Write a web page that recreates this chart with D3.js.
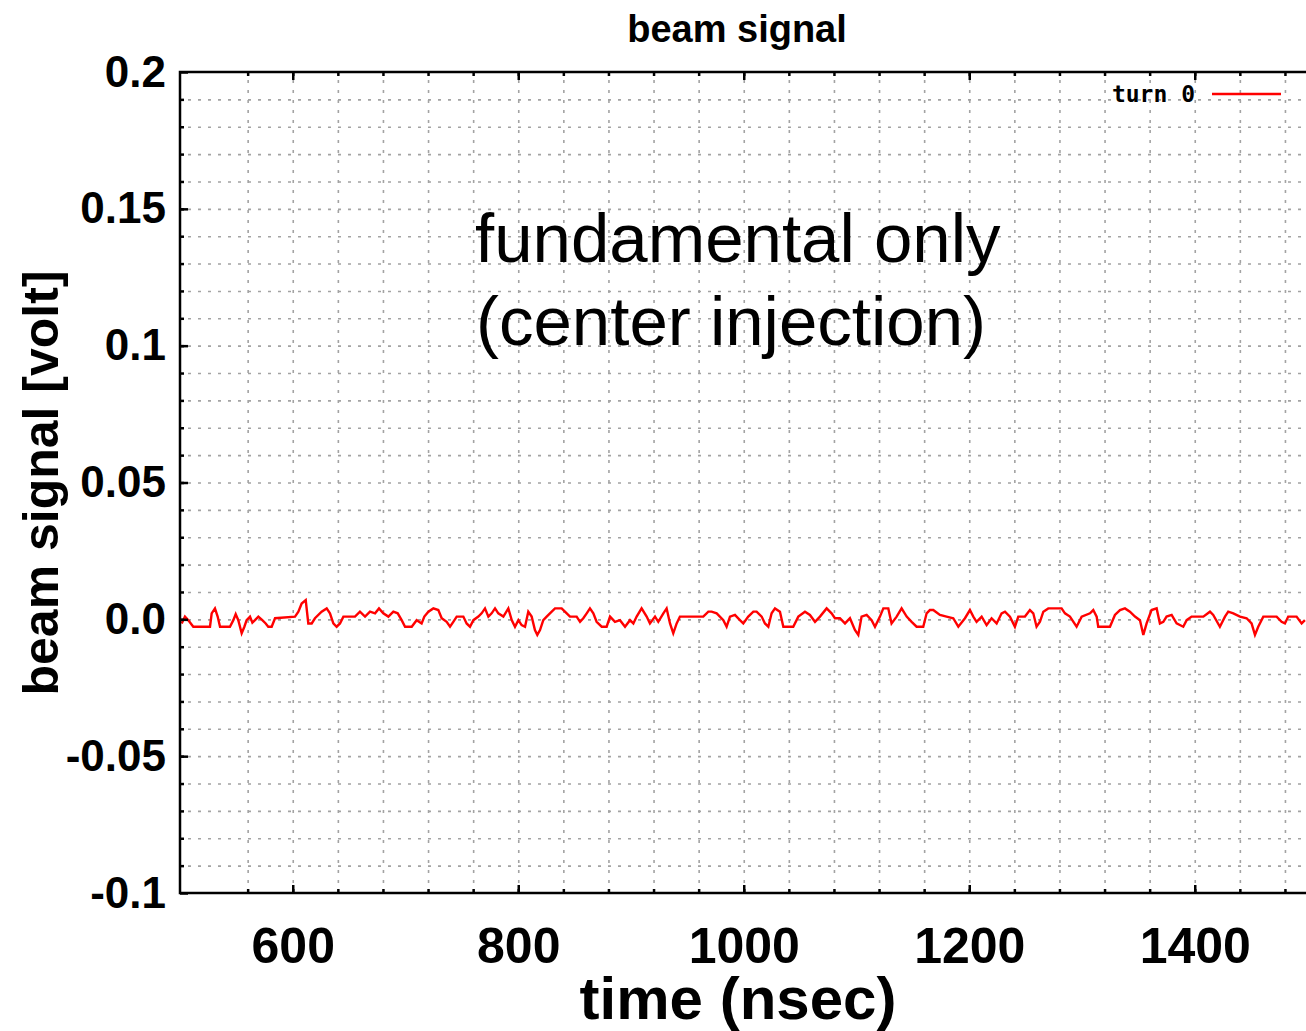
<!DOCTYPE html>
<html>
<head>
<meta charset="utf-8">
<script src="https://cdn.jsdelivr.net/npm/d3@7"></script>
<style>
  body { margin: 0; background: #fff; }
  svg { display: block; }
  .grid line { stroke: #a3a3a3; stroke-width: 1.6; stroke-dasharray: 3,7; }
  .grid .domain { display: none; }
  .axis .domain { display: none; }
  .axis line { stroke: #000; stroke-width: 2.5; }
  .axis text { font-family: "Liberation Sans", Arial, Helvetica, sans-serif; font-weight: bold; fill: #000; }
</style>
</head>
<body>
<div id="chart"></div>
<script>
// data
var timeNs = [
  501.5, 504.4, 507.4, 511.8, 526.6, 528.1, 531.0, 533.4, 535.5, 544.3, 547.3, 549.4, 551.7, 554.7, 557.1, 559.1,
  562.1, 564.2, 566.5, 569.5, 573.0, 576.0, 578.3, 581.3, 584.3, 602.0, 605.0, 607.9, 611.5, 613.8, 616.8, 619.7,
  625.6, 630.1, 633.0, 636.0, 638.9, 641.9, 644.9, 655.2, 659.6, 664.1, 668.5, 673.0, 676.5, 680.3, 684.8, 689.2,
  693.1, 696.6, 699.6, 705.5, 709.9, 714.3, 716.7, 720.3, 724.7, 729.1, 732.1, 736.5,
  739.5, 742.4, 745.4, 751.3, 754.2, 757.2, 760.2, 764.6, 767.5, 770.5, 773.5, 776.4, 779.4, 782.3, 786.8, 791.2,
  794.2, 797.1, 800.1, 803.0, 806.0, 808.9, 811.9, 814.8, 816.9, 819.3, 822.2, 825.2, 828.1, 832.6, 838.5, 841.4,
  845.9, 851.8, 854.8, 857.7, 860.7, 863.6, 866.6, 869.5, 874.0, 878.4, 881.4, 885.8, 890.2, 894.7, 899.1, 902.1,
  905.0, 909.4, 913.9, 916.8, 921.3, 924.2, 928.7, 931.6, 934.6, 937.5, 940.5, 943.4, 964.1, 968.6, 971.5, 976.0,
  981.9, 984.8, 987.8, 992.2, 996.6, 999.6, 1004.0, 1008.5, 1011.4, 1015.9, 1018.8, 1021.8, 1024.7, 1027.7, 1032.1,
  1035.1, 1043.9, 1048.4, 1054.3, 1058.7, 1063.2, 1067.6, 1073.5, 1077.9, 1080.9, 1085.3, 1089.8, 1094.2, 1098.6,
  1101.6, 1104.5, 1109.0, 1113.4, 1116.4, 1120.8, 1123.8, 1128.2, 1131.1, 1135.6, 1140.0, 1144.5, 1148.9, 1153.3,
  1159.2, 1162.2, 1165.1, 1168.1, 1174.0, 1179.9, 1185.8, 1190.3, 1196.2, 1200.6, 1203.6, 1206.5, 1211.0, 1215.4,
  1219.8, 1224.3, 1228.7, 1231.7, 1236.1,
  1240.5, 1243.5, 1249.4, 1253.8, 1256.8, 1259.7, 1262.7, 1265.7, 1270.1, 1281.9, 1284.9, 1289.3, 1295.2, 1299.7,
  1307.1, 1310.0, 1313.0, 1314.4, 1324.8, 1329.2, 1333.7, 1338.1, 1342.5, 1347.0, 1351.4, 1354.4, 1357.3, 1361.7,
  1366.2, 1369.1, 1372.1, 1375.0, 1379.5, 1383.9, 1389.8, 1392.8, 1397.2, 1407.6, 1413.5, 1416.4, 1422.3, 1426.8,
  1429.7, 1434.2, 1440.1, 1446.0, 1450.4, 1453.4, 1456.3, 1460.8, 1472.6, 1477.0, 1480.0, 1482.9, 1490.3, 1494.8,
  1497.7
];
var signalV = [
  -0.0015, 0.0010, -0.0003, -0.0027, -0.0027, 0.0022, 0.0040, 0.0010, -0.0027, -0.0027, -0.0003, 0.0019, -0.0003, -0.0051, -0.0027, -0.0003,
  0.0010, -0.0012, -0.0003, 0.0010, -0.0003, -0.0015, -0.0027, -0.0027, 0.0004, 0.0010, 0.0028, 0.0058, 0.0070, -0.0015, -0.0015, 0.0004,
  0.0028, 0.0040, 0.0022, -0.0015, -0.0027, -0.0015, 0.0010, 0.0010, 0.0028, 0.0010, 0.0028, 0.0022, 0.0040, 0.0022, 0.0010, 0.0028,
  0.0022, -0.0003, -0.0027, -0.0027, -0.0003, -0.0015, 0.0010, 0.0028, 0.0040, 0.0034, 0.0004, -0.0009,
  -0.0027, -0.0009, 0.0010, 0.0010, -0.0015, -0.0027, -0.0003, 0.0010, 0.0022, 0.0040, 0.0010, 0.0022, 0.0040, 0.0022, 0.0010, 0.0040,
  -0.0003, -0.0027, -0.0003, -0.0021, -0.0027, 0.0028, 0.0010, -0.0039, -0.0057, -0.0039, -0.0003, 0.0010, 0.0022, 0.0040, 0.0040, 0.0028,
  0.0010, 0.0010, -0.0009, 0.0004, 0.0022, 0.0040, 0.0022, -0.0009, -0.0027, -0.0027, 0.0010, -0.0009, -0.0003, -0.0027, -0.0003, -0.0015,
  0.0010, 0.0040, 0.0010, -0.0015, 0.0010, -0.0009, 0.0022, 0.0040, -0.0015, -0.0051, -0.0015, 0.0010, 0.0010, 0.0028, 0.0028, 0.0022,
  -0.0003, -0.0027, 0.0010, 0.0016, -0.0003, -0.0015, 0.0010, 0.0028, 0.0028, 0.0010, -0.0015, -0.0027, 0.0022, 0.0040, 0.0028,
  -0.0027, -0.0027, 0.0010, 0.0028, 0.0016, -0.0009, 0.0010, 0.0040, 0.0022, 0.0004, 0.0004, -0.0015, 0.0004, -0.0039,
  -0.0057, 0.0010, 0.0016, -0.0003, -0.0027, 0.0010, 0.0040, 0.0040, -0.0015, 0.0010, 0.0040, 0.0010, -0.0009, -0.0027,
  -0.0027, 0.0022, 0.0034, 0.0034, 0.0016, 0.0010, 0.0004, -0.0027, 0.0004, 0.0034, 0.0010, -0.0009, 0.0010, -0.0021,
  0.0004, -0.0015, 0.0022, 0.0028, 0.0010,
  -0.0027, 0.0010, 0.0010, 0.0034, 0.0022, -0.0027, -0.0009, 0.0028, 0.0040, 0.0040, 0.0022, 0.0010, -0.0027, 0.0010,
  0.0022, 0.0034, 0.0010, -0.0027, -0.0027, 0.0016, 0.0034, 0.0040, 0.0028, 0.0010, -0.0003, -0.0057, -0.0015, 0.0034,
  0.0040, -0.0015, -0.0009, 0.0010, 0.0016, -0.0015, -0.0027, -0.0003, 0.0010, 0.0010, 0.0028, 0.0016, -0.0027, 0.0010,
  0.0028, 0.0022, 0.0010, 0.0004, -0.0015, -0.0057, -0.0027, 0.0010, 0.0010, -0.0009, -0.0015, 0.0010, 0.0010, -0.0015,
  -0.0003
];

var xTicks = [600, 800, 1000, 1200, 1400];
var xMinorTicks = d3.range(560, 1500, 40);
var yTicks = [-0.1, -0.05, 0, 0.05, 0.1, 0.15, 0.2];
var yTickLabels = ["-0.1", "-0.05", "0.0", "0.05", "0.1", "0.15", "0.2"];
var yMinorTicks = d3.range(-9, 20).map(function (d) { return d / 100; });

var width = 1306, height = 1031,
    margin = {top: 72, left: 180, bottom: 893, right: 1307.5};

var svg = d3.select('#chart').append('svg')
    .attr('width', width)
    .attr('height', height);

var x = d3.scaleLinear().domain([500, 1500]).range([margin.left, margin.right]);
var y = d3.scaleLinear().domain([-0.1, 0.2]).range([margin.bottom, margin.top]);
var plotW = margin.right - margin.left,
    plotH = margin.bottom - margin.top;

// dotted grid (horizontal lines start a little right of the left border)
svg.append('g')
    .attr('class', 'grid')
    .attr('transform', 'translate(0,' + margin.bottom + ')')
    .call(d3.axisBottom(x).tickValues(xMinorTicks).tickSize(-plotH).tickFormat(''));
svg.append('g')
    .attr('class', 'grid')
    .attr('transform', 'translate(' + (margin.left + 8) + ',0)')
    .call(d3.axisLeft(y).tickValues(yMinorTicks).tickSize(-(plotW - 8)).tickFormat(''));

// signal
var line = d3.line()
    .x(function (d, i) { return x(timeNs[i]); })
    .y(function (d) { return y(d); });

svg.append('path')
    .datum(signalV)
    .attr('fill', 'none')
    .attr('stroke', '#ff0000')
    .attr('stroke-width', 2.4)
    .attr('stroke-linejoin', 'miter')
    .attr('d', line);

// minor ticks, all sides
svg.append('g').attr('class', 'axis')
    .attr('transform', 'translate(0,' + margin.bottom + ')')
    .call(d3.axisBottom(x).tickValues(xMinorTicks).tickSize(-4).tickFormat(''));
svg.append('g').attr('class', 'axis')
    .attr('transform', 'translate(0,' + margin.top + ')')
    .call(d3.axisTop(x).tickValues(xMinorTicks).tickSize(-4).tickFormat(''));
svg.append('g').attr('class', 'axis')
    .attr('transform', 'translate(' + margin.left + ',0)')
    .call(d3.axisLeft(y).tickValues(yMinorTicks).tickSize(-4).tickFormat(''));

// major ticks with labels
svg.append('g').attr('class', 'axis')
    .attr('transform', 'translate(0,' + margin.bottom + ')')
    .call(d3.axisBottom(x).tickValues(xTicks).tickSize(-8).tickPadding(34).tickFormat(d3.format('d')))
    .selectAll('text').style('font-size', '50px');
svg.append('g').attr('class', 'axis')
    .attr('transform', 'translate(0,' + margin.top + ')')
    .call(d3.axisTop(x).tickValues(xTicks).tickSize(-8).tickFormat(''));
svg.append('g').attr('class', 'axis')
    .attr('transform', 'translate(' + margin.left + ',0)')
    .call(d3.axisLeft(y).tickValues(yTicks).tickSize(-8).tickPadding(14)
        .tickFormat(function (d, i) { return yTickLabels[i]; }))
    .selectAll('text').style('font-size', '44px');

// frame
svg.append('rect')
    .attr('x', margin.left)
    .attr('y', margin.top)
    .attr('width', plotW)
    .attr('height', plotH)
    .attr('fill', 'none')
    .attr('stroke', '#000')
    .attr('stroke-width', 2.5);

// titles
var font = '"Liberation Sans", Arial, Helvetica, sans-serif';
svg.append('text')
    .attr('x', 737).attr('y', 42)
    .attr('text-anchor', 'middle')
    .style('font-family', font).style('font-weight', 'bold').style('font-size', '38px')
    .text('beam signal');

svg.append('text')
    .attr('transform', 'translate(58,483) rotate(-90)')
    .attr('text-anchor', 'middle')
    .style('font-family', font).style('font-weight', 'bold').style('font-size', '50px')
    .text('beam signal [volt]');

svg.append('text')
    .attr('x', 738).attr('y', 1019)
    .attr('text-anchor', 'middle')
    .style('font-family', font).style('font-weight', 'bold').style('font-size', '60px')
    .text('time (nsec)');

// annotation
svg.append('text')
    .attr('x', 475).attr('y', 262)
    .style('font-family', font).style('font-size', '69px')
    .text('fundamental only');
svg.append('text')
    .attr('x', 476).attr('y', 345)
    .style('font-family', font).style('font-size', '69px')
    .text('(center injection)');

// legend
svg.append('text')
    .attr('x', 1195).attr('y', 102)
    .attr('text-anchor', 'end')
    .style('font-family', '"DejaVu Sans Mono", monospace').style('font-weight', 'bold').style('font-size', '23px')
    .text('turn 0');
svg.append('line')
    .attr('x1', 1212).attr('x2', 1281)
    .attr('y1', 94).attr('y2', 94)
    .attr('stroke', '#ff0000')
    .attr('stroke-width', 2.4);
</script>
</body>
</html>
